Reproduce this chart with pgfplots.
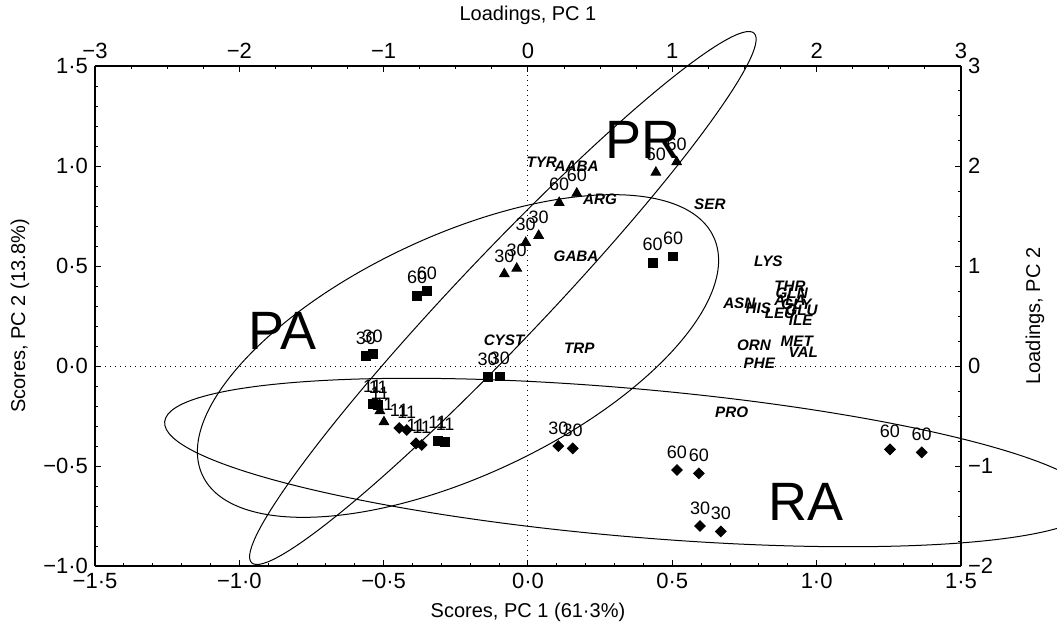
\documentclass[border=0pt]{standalone}
\usepackage{fontspec}
\setmainfont{Liberation Sans}
\usepackage{pgfplots}
\pgfplotsset{compat=1.18}

\pgfplotsset{
  pca/.style={
    scale only axis, width=433pt, height=250pt,
    tick align=inside, major tick length=3pt, minor tick length=1.6pt,
    every tick/.style={black, line width=0.5pt},
    axis line style={line width=0.6pt},
    ticklabel style={font=\fontsize{11}{13}\selectfont},
    label style={font=\fontsize{11}{13}\selectfont},
  },
  grp/.style={only marks, mark=#1, mark options={fill=black, draw=black},
    nodes near coords, point meta=explicit symbolic,
    nodes near coords align=center,
    every node near coord/.append style={font=\fontsize{9}{10}\selectfont, yshift=9pt, inner sep=0pt}},
  aa/.style={only marks, mark=none, nodes near coords, point meta=explicit symbolic,
    nodes near coords align=center,
    every node near coord/.append style={font=\fontsize{7.6}{8}\selectfont\bfseries\itshape, inner sep=0pt}},
}

\begin{document}
\begin{tikzpicture}
\path[use as bounding box] (-47.5pt,-31pt) rectangle (481pt,283pt);

% scores: bottom and left axes
\begin{axis}[pca, clip=false,
  xmin=-1.5, xmax=1.5, ymin=-1, ymax=1.5,
  axis x line*=bottom, axis y line*=left,
  xtick={-1.5,-1,-0.5,0,0.5,1,1.5},
  xticklabels={−1·5,−1·0,−0·5,0·0,0·5,1·0,1·5},
  ytick={-1,-0.5,0,0.5,1,1.5},
  yticklabels={−1·0,−0·5,0·0,0·5,1·0,1·5},
  minor x tick num=4, minor y tick num=4,
  xlabel={Scores, PC 1 (61·3\%)},
  ylabel={Scores, PC 2 (13.8\%)},
  every axis x label/.style={at={(axis description cs:0.5,-0.092)}, anchor=center},
  every axis y label/.style={at={(axis description cs:-0.0866,0.5)}, anchor=center, rotate=90},
]
\addplot[dotted, line width=0.5pt] coordinates {(0,-1) (0,1.5)};
\addplot[dotted, line width=0.5pt] coordinates {(-1.5,0) (1.5,0)};

% squares
\addplot[grp=square*, mark size=2.2pt] table[meta=lab] {
x y lab
0.432 0.517 60
0.503 0.548 60
-0.384 0.352 60
-0.350 0.375 60
-0.562 0.050 30
-0.538 0.060 30
-0.140 -0.055 30
-0.097 -0.052 30
-0.539 -0.190 11
-0.519 -0.195 11
-0.313 -0.373 11
-0.287 -0.380 11
};
% triangles
\addplot[grp=triangle*, mark size=2.8pt] table[meta=lab] {
x y lab
0.515 1.020 60
0.443 0.968 60
0.169 0.863 60
0.108 0.817 60
0.037 0.652 30
-0.008 0.617 30
-0.039 0.488 30
-0.082 0.460 30
-0.513 -0.225 11
-0.499 -0.280 11
};
% diamonds
\addplot[grp=square*, mark size=1.9pt, mark options={rotate=45}] table[meta=lab] {
x y lab
-0.446 -0.310 11
-0.420 -0.320 11
-0.388 -0.387 11
-0.368 -0.395 11
0.105 -0.400 30
0.155 -0.412 30
0.516 -0.520 60
0.592 -0.537 60
1.254 -0.417 60
1.364 -0.432 60
0.596 -0.800 30
0.668 -0.827 30
};

% group ellipses
\draw[line width=0.5pt, rotate around={46.5:(axis cs:-0.087,0.34)}]
  (axis cs:-0.087,0.34) ellipse [x radius=182.5pt, y radius=22pt];
\draw[line width=0.5pt, rotate around={25:(axis cs:-0.2425,0.05)}]
  (axis cs:-0.2425,0.05) ellipse [x radius=141pt, y radius=60pt];
\draw[line width=0.5pt, rotate around={-5:(axis cs:0.353,-0.4825)}]
  (axis cs:0.353,-0.4825) ellipse [x radius=233.5pt, y radius=37pt];

\node[font=\fontsize{27}{30}\selectfont] at (axis cs:0.398,1.13) {PR};
\node[font=\fontsize{27}{30}\selectfont] at (axis cs:-0.85,0.176) {PA};
\node[font=\fontsize{27}{30}\selectfont] at (axis cs:0.962,-0.678) {RA};
\end{axis}

% loadings: top and right axes
\begin{axis}[pca,
  xmin=-3, xmax=3, ymin=-2, ymax=3,
  axis x line*=top, axis y line*=right,
  xtick={-3,-2,-1,0,1,2,3},
  xticklabels={−3,−2,−1,0,1,2,3},
  ytick={-2,-1,0,1,2,3},
  yticklabels={−2,−1,0,1,2,3},
  minor x tick num=3, minor y tick num=3,
  xlabel={Loadings, PC 1},
  ylabel={Loadings, PC 2},
  every axis x label/.style={at={(axis description cs:0.5,1.102)}, anchor=center},
  every axis y label/.style={at={(axis description cs:1.0855,0.5)}, anchor=center, rotate=90},
]
\addplot[aa] table[meta=lab] {
x y lab
0.095 2.033 TYR
0.337 2.000 AABA
0.499 1.670 ARG
1.260 1.620 SER
0.333 1.093 GABA
-0.166 0.260 CYST
0.355 0.177 TRP
1.665 1.043 LYS
1.815 0.800 THR
1.827 0.727 GLN
1.815 0.660 ALA
1.860 0.620 GLY
1.464 0.627 ASN
1.596 0.577 HIS
1.746 0.527 LEU
1.896 0.560 GLU
1.889 0.460 ILE
1.566 0.210 ORN
1.862 0.243 MET
1.907 0.133 VAL
1.603 0.027 PHE
1.411 -0.467 PRO
};
\end{axis}
\end{tikzpicture}
\end{document}
